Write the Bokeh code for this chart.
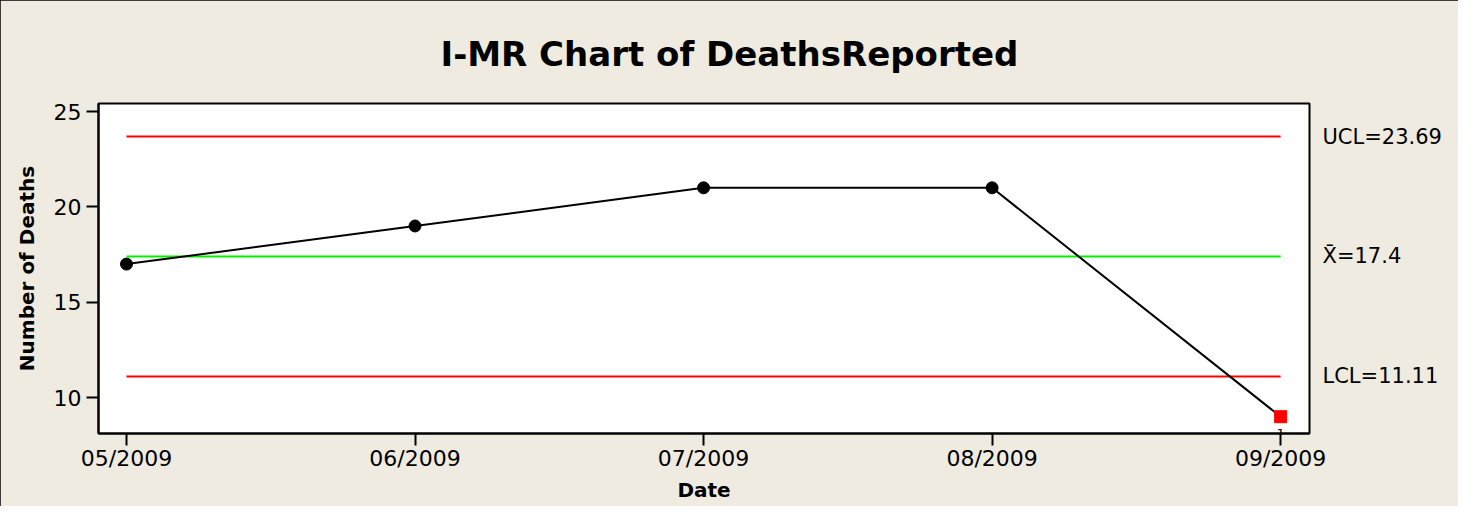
from bokeh.plotting import figure
from bokeh.models import Range1d, FixedTicker, Title, LinearAxis, CustomJSTickFormatter
from bokeh.core.properties import value
from bokeh.embed import file_html
from bokeh.resources import INLINE

dates = ["05/2009", "06/2009", "07/2009", "08/2009", "09/2009"]
deaths = [17, 19, 21, 21, 9]
ucl = 23.69
center = 17.4
lcl = 11.11
y_ticks = [10, 15, 20, 25]
limit_values = [lcl, center, ucl]
limit_labels = ["LCL=11.11", "X\u0304=17.4", "UCL=23.69"]

FONT = "DejaVu Sans"
BG = "#EFEBE1"

idx = list(range(len(dates)))

p = figure(width=1458, height=506, output_backend="svg", toolbar_location=None,
           x_range=Range1d(-0.097, 4.1), y_range=Range1d(8.12, 25.42),
           min_border_left=98, min_border_right=149, min_border_top=103,
           min_border_bottom=73)
p.styles = {"outline": "2px solid black", "outline-offset": "-2px"}
p.background_fill_color = "white"
p.border_fill_color = BG
p.outline_line_color = "black"
p.outline_line_width = 2
p.xgrid.visible = False
p.ygrid.visible = False

p.title = Title(text="I-MR Chart of DeathsReported", align="left",
                text_font=FONT, text_font_size="34px", text_font_style="bold",
                text_color="black", offset=342, standoff=60)

# control limit lines
p.line([idx[0], idx[-1]], [ucl, ucl], line_color="#FF0000", line_width=2)
p.line([idx[0], idx[-1]], [lcl, lcl], line_color="#FF0000", line_width=2)
p.line([idx[0], idx[-1]], [center, center], line_color="#00F000", line_width=2)

# data
p.line(idx, deaths, line_color="black", line_width=2)
p.scatter(idx[:-1], deaths[:-1], size=12, color="black")
p.scatter([idx[-1]], [deaths[-1]], marker="square", size=12, color="#FF0000")
p.text([idx[-1]], [deaths[-1]], text=["1"], text_font=value(FONT),
       text_font_size="13px", text_align="center", text_baseline="alphabetic",
       y_offset=17, text_color="black")

# right-side limit labels as an axis
rax = LinearAxis(ticker=FixedTicker(ticks=limit_values),
                 formatter=CustomJSTickFormatter(args=dict(labels=limit_labels),
                                                 code="return labels[index]"))
rax.axis_line_color = None
rax.major_tick_line_color = None
rax.minor_tick_line_color = None
rax.major_tick_out = 0
rax.major_tick_in = 0
rax.major_label_standoff = 13
rax.major_label_text_font = FONT
rax.major_label_text_font_size = "21px"
rax.major_label_text_color = "black"
p.add_layout(rax, "right")

# axes
p.xaxis[0].ticker = FixedTicker(ticks=idx)
p.xaxis[0].major_label_overrides = {i: d for i, d in zip(idx, dates)}
p.yaxis[0].ticker = FixedTicker(ticks=y_ticks)
for ax in (p.xaxis[0], p.yaxis[0]):
    ax.axis_line_color = "black"
    ax.axis_line_width = 2
    ax.major_tick_line_color = "black"
    ax.major_tick_line_width = 2
    ax.major_tick_in = 0
    ax.major_tick_out = 12
    ax.minor_tick_line_color = None
    ax.major_label_text_font = FONT
    ax.major_label_text_font_size = "22px"
    ax.major_label_text_color = "black"
    ax.axis_label_text_font = FONT
    ax.axis_label_text_font_size = "20px"
    ax.axis_label_text_font_style = "bold"
    ax.axis_label_text_color = "black"
p.xaxis[0].axis_label = "Date"
p.yaxis[0].axis_label = "Number of Deaths"
p.xaxis[0].major_label_standoff = 0
p.xaxis[0].axis_label_standoff = 4
p.yaxis[0].major_label_standoff = 5
p.yaxis[0].axis_label_standoff = 12

open("out.html", "w").write(file_html(p, INLINE))
